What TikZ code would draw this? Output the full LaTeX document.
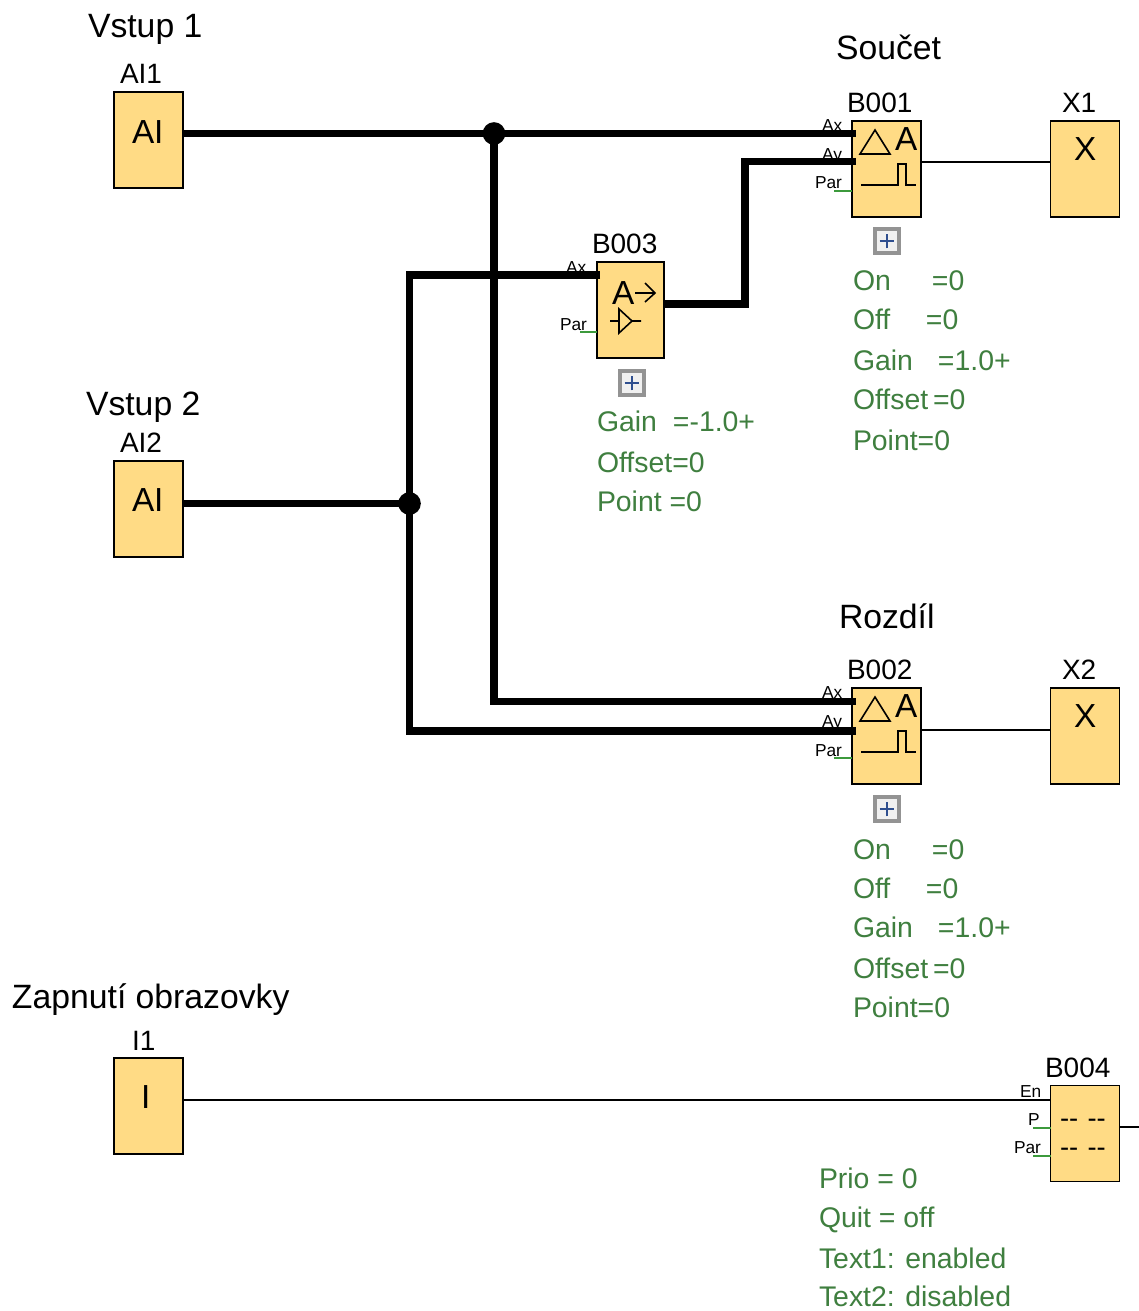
\documentclass[tikz,border=0pt]{standalone}
\usepackage{fontspec}
\setmainfont{Liberation Sans}
\definecolor{blockfill}{HTML}{FFDB85}
\definecolor{parcol}{HTML}{3F7F3F}
\definecolor{stubcol}{HTML}{3C9A3C}
\definecolor{plusblue}{HTML}{2F4F8F}
\newcommand{\fsz}[1]{\fontsize{#1}{#1}\selectfont}
\newcommand{\gl}[2]{\makebox[#1pt][l]{#2}}
\tikzset{
  x=0.75pt,y=-0.75pt,
  txt/.style={anchor=base west,inner sep=0pt,outer sep=0pt},
  title/.style={txt,font=\fsz{25.3}},
  lbl/.style={txt,font=\fsz{21}},
  sym/.style={txt,font=\fsz{25}},
  pin/.style={txt,font=\fsz{13}},
  param/.style={txt,font=\fsz{21.3},text=parcol,yshift=0.75pt},
  block/.style={draw=black,line width=1.2pt,fill=blockfill,inner sep=0pt,outer sep=0pt,minimum width=51.75pt,minimum height=72pt},
  bus/.style={draw=black,line width=5.6pt},
  wire/.style={draw=black,line width=1pt},
  stub/.style={draw=stubcol,line width=0.8pt},
  glyph/.style={draw=black,line width=1.2pt},
  dot/.style={circle,fill=black,inner sep=0pt,minimum size=17pt},
  plusbox/.style={draw=gray!85,line width=2.6pt,fill=gray!12,inner sep=0pt,minimum size=18pt,
    path picture={\draw[line width=1.6pt,draw=plusblue] ([xshift=-5.5pt]path picture bounding box.center)--([xshift=5.5pt]path picture bounding box.center);
    \draw[line width=1.6pt,draw=plusblue] ([yshift=-5.5pt]path picture bounding box.center)--([yshift=5.5pt]path picture bounding box.center);}},
  pics/trig/.style={code={
    \draw[glyph] (8,33)--(23,9)--(38,33)--cycle;
    \draw[glyph] (9,64)--(46,64)--(46,43)--(54,43)--(54,64)--(64,64);
  }}
}
\begin{document}
\begin{tikzpicture}
\useasboundingbox (0,0) rectangle (1139,1311);
\fill[white] (0,0) rectangle (1139,1311);
% blocks
\node[block] (AIa) at (148.5,140) {};
\node[block] (AIb) at (148.5,509) {};
\node[block] (Ba) at (886.5,169) {};
\node[block] (Xa) at (1085,169) {};
\node[block,minimum width=50.25pt] (Bc) at (630.5,310) {};
\node[block] (Bb) at (886.5,736) {};
\node[block] (Xb) at (1085,736) {};
\node[block] (Ia) at (148.5,1106) {};
\node[block] (Bd) at (1085,1133.5) {};
% titles
\node[title] (tv1) at (88,37) {Vstup 1};
\node[title] (tv2) at (86,415) {Vstup 2};
\node[title] (tso) at (836,59) {Součet};
\node[title] (tro) at (839,628) {Rozdíl};
\node[title] (tza) at (12,1008) {Zapnutí obrazovky};
% block names
\node[lbl] (lai1) at (120,83) {AI1};
\node[lbl] (lai2) at (120,452) {AI2};
\node[lbl] (li1) at (132,1050) {I1};
\node[lbl] (lb1) at (847,112) {B001};
\node[lbl] (lx1) at (1062,112) {X1};
\node[lbl] (lb3) at (592,253) {B003};
\node[lbl] (lb2) at (847,679) {B002};
\node[lbl] (lx2) at (1062,679) {X2};
\node[lbl] (lb4) at (1045,1077) {B004};
% block symbols
\node[sym] (sai1) at (132,143) {AI};
\node[sym] (sai2) at (132,511) {AI};
\node[sym] (sx1) at (1074,160) {X};
\node[sym] (sx2) at (1074,727) {X};
\node[sym] (si1) at (141,1108) {I};
\node[sym] (sa1) at (895,150) {A};
\node[sym] (sa2) at (895,717) {A};
\node[sym] (sa3) at (612,304) {A};
\pic at (852,121) {trig};
\pic at (852,688) {trig};
\draw[glyph] (635,293)--(655,293) (645,283)--(655,293)--(645,302);
\draw[glyph] (610,321)--(619,321) (632,321)--(641,321) (619,309)--(619,333)--(632,321)--cycle;
\node[txt,font=\fsz{20.5}] (dd1) at (1060,1127) {-{}-\hspace{7pt}-{}-};
\node[txt,font=\fsz{20.5}] (dd2) at (1060,1156) {-{}-\hspace{7pt}-{}-};
% pin labels
\node[pin] (pa1) at (822,131) {Ax};
\node[pin] (pa2) at (822,160) {Ay};
\node[pin] (pa3) at (815,188) {Par};
\node[pin] (pb1) at (822,698) {Ax};
\node[pin] (pb2) at (822,727) {Ay};
\node[pin] (pb3) at (815,756) {Par};
\node[pin] (pc1) at (566,273) {Ax};
\node[pin] (pc3) at (560,330) {Par};
\node[pin] (pd1) at (1020,1097) {En};
\node[pin] (pd2) at (1028,1125) {P};
\node[pin] (pd3) at (1014,1153) {Par};
% stubs
\coordinate (sta) at (834,191);
\coordinate (stb) at (834,758);
\coordinate (stc) at (580,332);
\coordinate (std) at (1033,1128);
\coordinate (ste) at (1033,1156);
\draw[stub] (sta)--(sta-|Ba.west);
\draw[stub] (stb)--(stb-|Bb.west);
\draw[stub] (stc)--(stc-|Bc.west);
\draw[stub] (std)--(std-|Bd.west);
\draw[stub] (ste)--(ste-|Bd.west);
% wires
\coordinate (ja) at (494,133.5);
\coordinate (jb) at (409.5,503.5);
\coordinate (ba1) at (856,133.5);
\coordinate (ba2) at (856,161.5);
\coordinate (bb1) at (856,701.5);
\coordinate (bb2) at (856,731);
\coordinate (bc1) at (600,275);
\coordinate (bcout) at (664,304);
\coordinate (bdout) at (1139,1127);
\draw[bus] (AIa.east|-ja) -- (ba1);
\draw[bus] (ja) |- (bb1);
\draw[bus] (AIb.east|-jb) -- (jb);
\draw[bus,line join=miter] (bc1) -| (jb) |- (bb2);
\draw[bus,line join=miter] (bcout) -| (745,161.5) -- (ba2);
\node[dot] (da) at (ja) {};
\node[dot] (db) at (jb) {};
\draw[wire] (Ba.east|-0,162) -- (Xa.west|-0,162);
\draw[wire] (Bb.east|-0,730) -- (Xb.west|-0,730);
\draw[wire] (Ia.east|-0,1100) -- (Bd.west|-0,1100);
\draw[wire] (Bd.east|-bdout) -- (bdout);
% plus boxes
\node[plusbox] (pl1) at (887,241) {};
\node[plusbox] (pl2) at (632,383) {};
\node[plusbox] (pl3) at (887,809) {};
% parameters
\node[param] (g1) at (853,291) {\gl{59.25}{On}=0};
\node[param] (g2) at (853,330) {\gl{54.75}{Off}=0};
\node[param] (g3) at (853,371) {\gl{63.75}{Gain}=1.0+};
\node[param] (g4) at (853,410) {\gl{60}{Offset}=0};
\node[param] (g5) at (853,451) {Point=0};
\node[param] (h1) at (853,860) {\gl{59.25}{On}=0};
\node[param] (h2) at (853,899) {\gl{54.75}{Off}=0};
\node[param] (h3) at (853,938) {\gl{63.75}{Gain}=1.0+};
\node[param] (h4) at (853,979) {\gl{60}{Offset}=0};
\node[param] (h5) at (853,1018) {Point=0};
\node[param] (k1) at (597,432) {\gl{57}{Gain}=-1.0+};
\node[param] (k2) at (597,473) {Offset=0};
\node[param] (k3) at (597,512) {Point =0};
\node[param] (m1) at (819,1189) {Prio = 0};
\node[param] (m2) at (819,1228) {Quit = off};
\node[param] (m3) at (819,1269) {Text1: enabled};
\node[param] (m4) at (819,1307) {Text2: disabled};
\end{tikzpicture}
\end{document}
